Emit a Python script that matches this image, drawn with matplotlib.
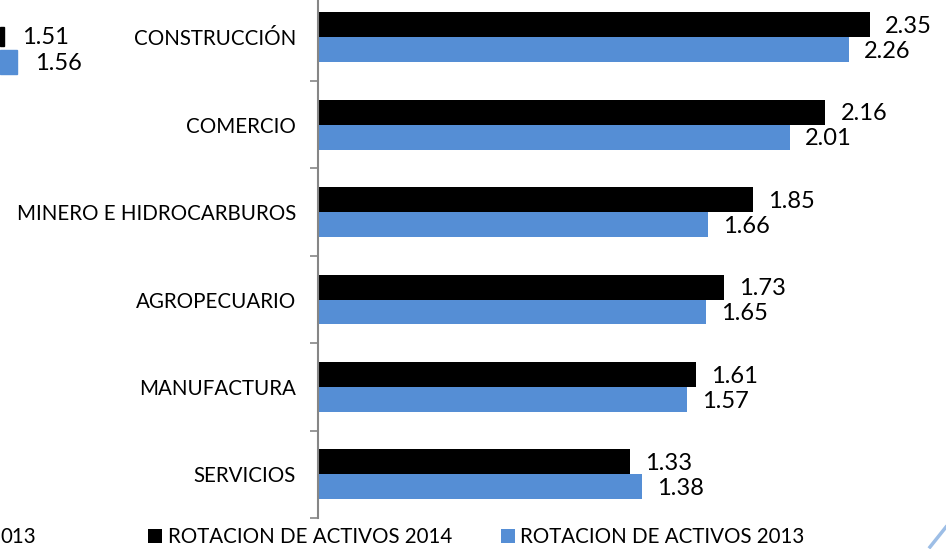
import matplotlib
matplotlib.use("Agg")
import matplotlib.pyplot as plt
from matplotlib.patches import Patch, Rectangle
import numpy as np

plt.rcParams['font.family'] = ['Lato', 'DejaVu Sans']

categories = ["CONSTRUCCIÓN", "COMERCIO", "MINERO E HIDROCARBUROS",
              "AGROPECUARIO", "MANUFACTURA", "SERVICIOS"]
values_2014 = [2.35, 2.16, 1.85, 1.73, 1.61, 1.33]
values_2013 = [2.26, 2.01, 1.66, 1.65, 1.57, 1.38]
series_names = ["ROTACION DE ACTIVOS 2014", "ROTACION DE ACTIVOS 2013"]
color_2014 = "#000000"
color_2013 = "#558ED5"

W, H = 946, 549
fig = plt.figure(figsize=(W / 100, H / 100), dpi=100)
ax_left, ax_right = 318 / W, 1.0
ax_top_px, ax_bot_px = -6.4, 518
ax = fig.add_axes([ax_left, (H - ax_bot_px) / H, ax_right - ax_left, (ax_bot_px - ax_top_px) / H])

y = np.arange(len(categories))
h = 0.286
ax.barh(y - h / 2, values_2014, height=h, color=color_2014)
ax.barh(y + h / 2, values_2013, height=h, color=color_2013)

ax.set_xlim(0, (W - 318) / 234.9)
ax.set_ylim(len(categories) - 0.5, -0.5)

fs = 14.8
vfs = 17
for yi, v in zip(y, values_2014):
    ax.text(v + 0.064, yi - h / 2 + 0.02, f"{v:.2f}", va="center", ha="left", fontsize=vfs)
for yi, v in zip(y, values_2013):
    ax.text(v + 0.064, yi + h / 2 + 0.02, f"{v:.2f}", va="center", ha="left", fontsize=vfs)

ax.set_yticks(y)
ax.set_yticklabels(categories, fontsize=fs)
ax.set_yticks(np.arange(len(categories) + 1) - 0.5, minor=True)
ax.tick_params(axis="y", which="major", length=0, pad=15.8)
ax.tick_params(axis="y", which="minor", length=6, width=1.2, color="#868686")
ax.set_xticks([])
for s in ["top", "right", "bottom"]:
    ax.spines[s].set_visible(False)
ax.spines["left"].set_color("#868686")
ax.spines["left"].set_linewidth(1.5)

handles = [Patch(facecolor=color_2014), Patch(facecolor=color_2013)]
fig.legend(handles, series_names, loc="center", bbox_to_anchor=(476.5 / W, (H - 537) / H),
           ncol=2, frameon=False, fontsize=fs, handlelength=0.68, handleheight=0.68,
           handletextpad=0.25, columnspacing=2.4, borderaxespad=0, borderpad=0)

# fragments of an adjacent chart visible at the crop edges
fig.patches.append(Rectangle((0, 1 - 46 / H), 4 / W, 19 / H, transform=fig.transFigure, color=color_2014))
fig.patches.append(Rectangle((0, 1 - 74 / H), 17 / W, 24 / H, transform=fig.transFigure, color=color_2013))
fig.text(22 / W, 1 - 38 / H, "1.51", fontsize=vfs, va="center", ha="left")
fig.text(35 / W, 1 - 63 / H, "1.56", fontsize=vfs, va="center", ha="left")
fig.text(0, 1 - 537 / H, "013", fontsize=fs, va="center", ha="left")
fig.add_artist(plt.Line2D([930 / W, 946 / W], [1 - 547 / H, 1 - 527 / H], color="#9DBEE6", lw=2.5))

fig.savefig("out.png", dpi=100)
